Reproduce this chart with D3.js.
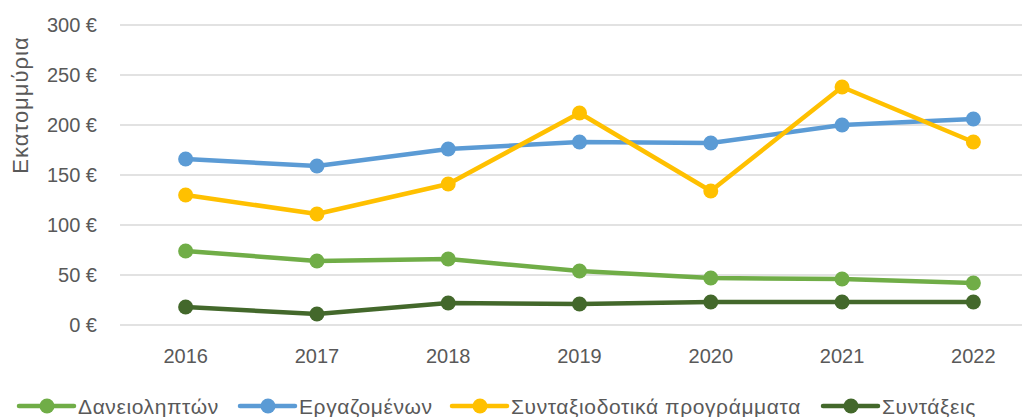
<!DOCTYPE html>
<html>
<head>
<meta charset="utf-8">
<script src="https://cdn.jsdelivr.net/npm/d3@7"></script>
<style>
  body { margin: 0; background: #fff; }
  svg { display: block; font-family: "Liberation Sans", Arial, sans-serif; }
</style>
</head>
<body>
<div id="container"></div>
<script>
// data (millions €)
const years = [2016, 2017, 2018, 2019, 2020, 2021, 2022];
const borrowers = [74, 64, 66, 54, 47, 46, 42];          // Δανειοληπτών
const employees = [166, 159, 176, 183, 182, 200, 206];    // Εργαζομένων
const pensionPlans = [130, 111, 141, 212, 134, 238, 183]; // Συνταξιοδοτικά προγράμματα
const pensions = [18, 11, 22, 21, 23, 23, 23];            // Συντάξεις
const yTicks = [0, 50, 100, 150, 200, 250, 300];

const seriesNames = ["Δανειοληπτών", "Εργαζομένων", "Συνταξιοδοτικά προγράμματα", "Συντάξεις"];
const seriesColors = ["#70AD47", "#5B9BD5", "#FFC000", "#43682B"];
const seriesValues = [borrowers, employees, pensionPlans, pensions];

const width = 1027, height = 417;

const svg = d3.select("#container").append("svg")
  .attr("width", width)
  .attr("height", height);

// scales
const x = d3.scaleBand().domain(years).range([120, 1039]);
const y = d3.scaleLinear().domain([0, 300]).range([325, 25]);
const cx = d => x(d) + x.bandwidth() / 2;

// gridlines
svg.append("g")
  .selectAll("line")
  .data(yTicks)
  .join("line")
  .attr("x1", 120)
  .attr("x2", 1022)
  .attr("y1", d => y(d))
  .attr("y2", d => y(d))
  .attr("stroke", "#D9D9D9")
  .attr("stroke-width", 1.5);

// y tick labels
svg.append("g")
  .selectAll("text")
  .data(yTicks)
  .join("text")
  .attr("x", 97)
  .attr("y", d => y(d))
  .attr("dy", "0.36em")
  .attr("text-anchor", "end")
  .attr("fill", "#595959")
  .attr("font-size", "20px")
  .text(d => d + " €");

// x tick labels
svg.append("g")
  .selectAll("text")
  .data(years)
  .join("text")
  .attr("x", d => cx(d))
  .attr("y", 363)
  .attr("text-anchor", "middle")
  .attr("fill", "#595959")
  .attr("font-size", "20px")
  .text(d => d);

// y axis title
svg.append("text")
  .attr("transform", "translate(28,105) rotate(-90)")
  .attr("text-anchor", "middle")
  .attr("fill", "#595959")
  .attr("font-size", "22px")
  .attr("letter-spacing", "1px")
  .text("Εκατομμύρια");

// lines + markers
const line = d3.line()
  .x((d, i) => cx(years[i]))
  .y(d => y(d));

seriesValues.forEach((vals, s) => {
  const g = svg.append("g");
  g.append("path")
    .datum(vals)
    .attr("d", line)
    .attr("fill", "none")
    .attr("stroke", seriesColors[s])
    .attr("stroke-width", 4.5)
    .attr("stroke-linejoin", "round")
    .attr("stroke-linecap", "round");
  g.selectAll("circle")
    .data(vals)
    .join("circle")
    .attr("cx", (d, i) => cx(years[i]))
    .attr("cy", d => y(d))
    .attr("r", 7.5)
    .attr("fill", seriesColors[s]);
});

// legend
const legendX = [19, 240, 452, 823];
const legend = svg.append("g");
seriesNames.forEach((name, s) => {
  const lx = legendX[s], ly = 406;
  legend.append("line")
    .attr("x1", lx).attr("x2", lx + 55)
    .attr("y1", ly).attr("y2", ly)
    .attr("stroke", seriesColors[s])
    .attr("stroke-width", 4.5)
    .attr("stroke-linecap", "round");
  legend.append("circle")
    .attr("cx", lx + 28).attr("cy", ly)
    .attr("r", 7.5)
    .attr("fill", seriesColors[s]);
  legend.append("text")
    .attr("x", lx + 59)
    .attr("y", ly)
    .attr("dy", "0.36em")
    .attr("fill", "#595959")
    .attr("font-size", "21px")
    .attr("letter-spacing", "0.6px")
    .text(name);
});
</script>
</body>
</html>
